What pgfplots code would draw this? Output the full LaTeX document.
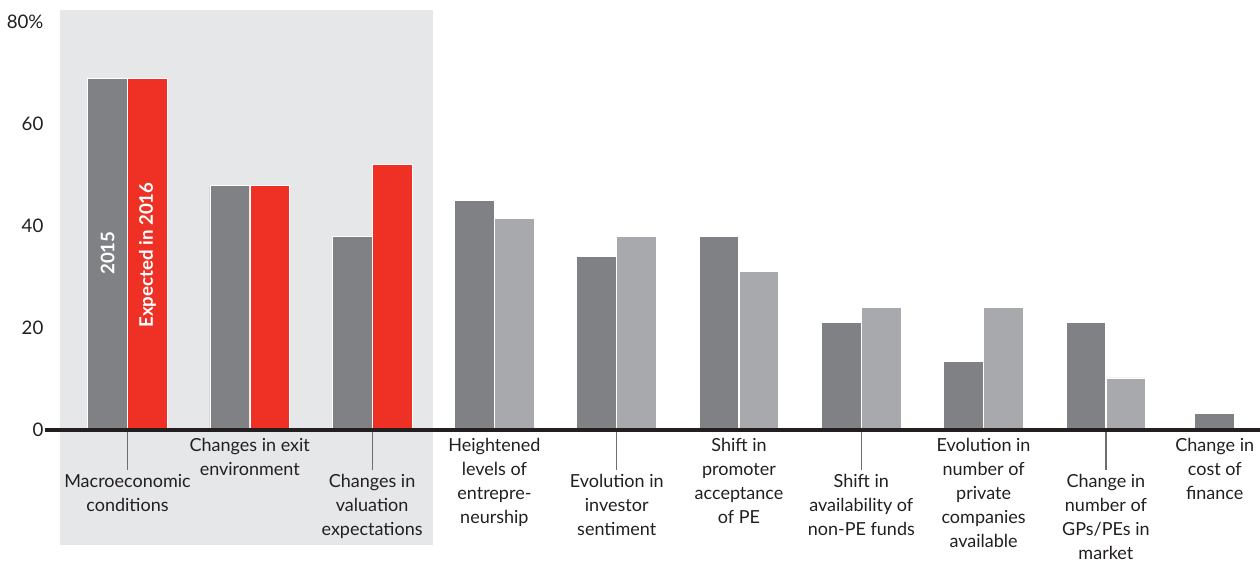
\documentclass[border=0pt]{standalone}
\usepackage{fontspec}
\setmainfont{Lato}
\usepackage{pgfplots}
\pgfplotsset{compat=1.18}
\definecolor{dgray}{HTML}{808184}
\definecolor{lgray}{HTML}{A7A9AC}
\definecolor{bred}{HTML}{EE3124}
\definecolor{bgshade}{HTML}{E6E7E8}
\definecolor{axisblack}{HTML}{231F20}
\definecolor{tickgray}{HTML}{6D6E71}
\begin{document}
\begin{tikzpicture}
\begin{axis}[
  scale only axis, width=911.25pt, height=306pt,
  xmin=-0.6746, xmax=9.260, ymin=0, ymax=80,
  clip=false, axis on top,
  axis x line=bottom, axis y line=left,
  x axis line style={line width=3.4pt, color=axisblack, -},
  y axis line style={draw=none},
  ytick={0,20,40,60,80}, yticklabels={0,20,40,60,80\%},
  y tick style={draw=none},
  yticklabel style={font=\fontsize{14}{16}\selectfont, text=axisblack, anchor=east, inner sep=1pt, xshift=30pt},
  /pgf/number format/assume math mode=true,
  xtick={0,2,4,6,8},
  xticklabels={{Macroeconomic\\conditions},{Changes in\\valuation\\expectations},{Evolution in\\investor\\sentiment},{Shift in\\availability of\\non-PE funds},{Change in\\number of\\GPs/PEs in\\market}},
  x tick style={color=tickgray, line width=0.9pt},
  tick align=outside, x tick label style={font=\fontsize{13.5}{18}\selectfont, text=axisblack, align=center, anchor=north, inner sep=0pt, yshift=-3pt},
  xtick pos=bottom,
  major tick length=30pt,
  extra x ticks={1,3,5,7,8.89},
  extra x tick labels={{Changes in exit\\environment},{Heightened\\levels of\\entrepre-\\neurship},{Shift in\\promoter\\acceptance\\of PE},{Evolution in\\number of\\private\\companies\\available},{Change in\\cost of\\finance}},
  extra x tick style={major tick length=0pt, x tick label style={yshift=-3pt}},
]
\fill[bgshade] (axis cs:-0.552,82.35) rectangle (axis cs:2.498,-22.55);
\coordinate (BL) at (axis cs:-1.0425,-25.69);
\coordinate (TR) at (axis cs:9.260,84.31);
% 2015
\addplot[ybar, bar width=0.325, bar shift=-0.1635, fill=dgray, draw=white, line width=0.6pt]
  coordinates {(0,69) (1,48) (2,38) (3,45) (4,34) (5,38) (6,21) (7,13.5) (8,21)};
\addplot[ybar, bar width=0.325, bar shift=0, fill=dgray, draw=white, line width=0.6pt]
  coordinates {(8.89,3.2)};
% Expected 2016 (highlighted)
\addplot[ybar, bar width=0.325, bar shift=0.1635, fill=bred, draw=white, line width=0.6pt]
  coordinates {(0,69) (1,48) (2,52)};
\addplot[ybar, bar width=0.325, bar shift=0.1635, fill=lgray, draw=white, line width=0.6pt]
  coordinates {(3,41.5) (4,38) (5,31) (6,24) (7,24) (8,10.2)};
\node[rotate=90, text=white, font=\bfseries\fontsize{14}{16}\selectfont] at (axis cs:-0.1635,34.7) {2015};
\node[rotate=90, text=white, font=\bfseries\fontsize{14}{16}\selectfont] at (axis cs:0.1635,34.3) {Expected in 2016};
\end{axis}
\pgfresetboundingbox
\path[use as bounding box] (BL) rectangle (TR);
\end{tikzpicture}
\end{document}
